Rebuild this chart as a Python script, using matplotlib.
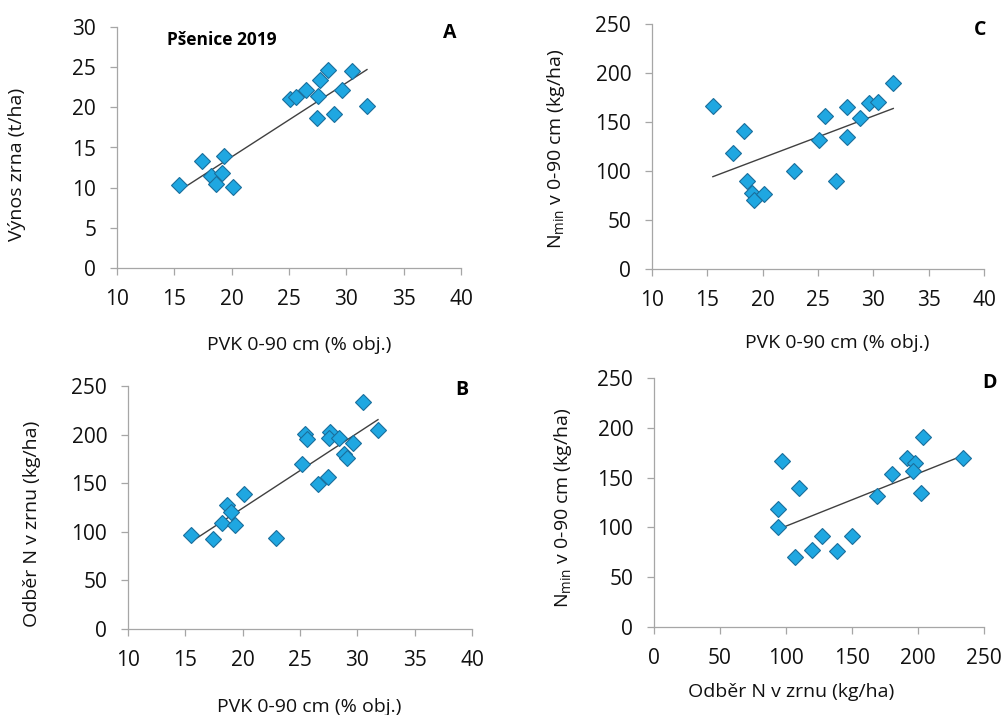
import matplotlib as mpl
mpl.use('Agg')
import matplotlib.pyplot as plt
import numpy as np

plt.rcParams['font.family'] = ['Open Sans', 'DejaVu Sans']

# A: PVK vs. vynos zrna
pvk_a = [15.4, 17.4, 18.2, 18.6, 19.2, 19.3, 20.1, 25.1, 25.6, 26.5, 27.4, 27.5,
         27.7, 28.4, 28.9, 29.6, 30.5, 31.8]
vynos = [10.3, 13.3, 11.5, 10.4, 11.8, 14.0, 10.1, 21.0, 21.3, 22.1, 18.7, 21.4,
         23.4, 24.7, 19.2, 22.2, 24.5, 20.2]

# B: PVK vs. odber N v zrnu
pvk_b = [15.5, 17.4, 18.2, 18.6, 19.0, 19.3, 20.1, 22.9, 25.2, 25.4, 25.6, 26.6,
         27.4, 27.6, 27.5, 28.4, 28.8, 29.1, 29.6, 30.5, 31.8]
odber_b = [97, 93, 109, 128, 120, 107, 139, 94, 170, 201, 195, 149,
           156, 203, 197, 197, 180, 176, 191, 234, 205]

# C: PVK vs. Nmin
pvk_c = [15.5, 17.3, 18.3, 18.6, 19.0, 19.2, 20.1, 22.8, 25.1, 25.6, 26.6, 27.6,
         27.6, 28.8, 29.6, 30.4, 31.8]
nmin_c = [166, 118, 141, 90, 78, 70, 77, 100, 132, 156, 90, 165,
          135, 154, 169, 170, 190]

# D: odber N vs. Nmin
odber_d = [94, 94, 97, 107, 110, 120, 127, 139, 150, 169, 180, 192, 198, 196, 202, 204, 234]
nmin_d = [118, 100, 167, 70, 140, 77, 91, 76, 91, 132, 154, 170, 165, 157, 135, 191, 170]

W, H = 1007, 715
fig = plt.figure(figsize=(W / 100, H / 100), dpi=100)

def px_axes(left, top, right, bottom):
    return fig.add_axes([left / W, 1 - bottom / H, (right - left) / W, (bottom - top) / H])

nmin_label = r'N$_{\mathregular{min}}$ v 0-90 cm (kg/ha)'

panels = [
    # x, y, rect(px), xlim, xticks, ylim, yticks, xlabel, ylabel, xlabel pos, ylabel pos
    (pvk_a, vynos, (117, 27, 461, 268), (10, 40), np.arange(10, 41, 5), (0, 30), np.arange(0, 31, 5),
     'PVK 0-90 cm (% obj.)', 'Výnos zrna (t/ha)', (0.53, -0.32), (-0.29, 0.43)),
    (pvk_c, nmin_c, (652, 24, 984, 269), (10, 40), np.arange(10, 41, 5), (0, 250), np.arange(0, 251, 50),
     'PVK 0-90 cm (% obj.)', nmin_label, (0.557, -0.30), (-0.29, 0.49)),
    (pvk_b, odber_b, (128, 386, 472, 629), (10, 40), np.arange(10, 41, 5), (0, 250), np.arange(0, 251, 50),
     'PVK 0-90 cm (% obj.)', 'Odběr N v zrnu (kg/ha)', (0.528, -0.323), (-0.28, 0.433)),
    (odber_d, nmin_d, (654, 378, 984, 627), (0, 250), np.arange(0, 251, 50), (0, 250), np.arange(0, 251, 50),
     'Odběr N v zrnu (kg/ha)', nmin_label, (0.417, -0.263), (-0.277, 0.478)),
]

for x, y, rect, xlim, xticks, ylim, yticks, xlab, ylab, xlpos, ylpos in panels:
    ax = px_axes(*rect)
    x = np.array(x)
    y = np.array(y)
    k, q = np.polyfit(x, y, 1)
    xs = np.array([x.min(), x.max()])
    ax.plot(xs, k * xs + q, color='#404040', lw=1.0, zorder=2)
    ax.plot(x, y, 'D', ms=8, mfc='#1fa7e1', mec='#1a6e9c', mew=0.8, zorder=3)
    ax.set_xlim(*xlim)
    ax.set_ylim(*ylim)
    ax.set_xticks(xticks)
    ax.set_yticks(yticks)
    for s in ['top', 'right']:
        ax.spines[s].set_visible(False)
    for s in ['left', 'bottom']:
        ax.spines[s].set_color('#a6a6a6')
        ax.spines[s].set_linewidth(0.9)
    ax.tick_params(direction='out', length=5, width=0.9, color='#a6a6a6',
                   labelsize=15, labelcolor='#111111', pad=10)
    ax.set_xlabel(xlab, fontsize=14, color='#111111')
    ax.set_ylabel(ylab, fontsize=14, color='#111111')
    ax.xaxis.set_label_coords(*xlpos)
    ax.yaxis.set_label_coords(*ylpos)
    ax.xaxis.label.set_va('center')
    ax.yaxis.label.set_va('center')

fig.text(167 / W, 1 - 40 / H, 'Pšenice 2019', fontsize=12.5, fontweight='bold', va='center', ha='left')
for lab, (lx, ly) in zip('ACBD', [(450, 33), (980, 30), (462, 390), (990, 383)]):
    fig.text(lx / W, 1 - ly / H, lab, fontsize=14, fontweight='bold', va='center', ha='center')

fig.savefig('out.png', dpi=100)
